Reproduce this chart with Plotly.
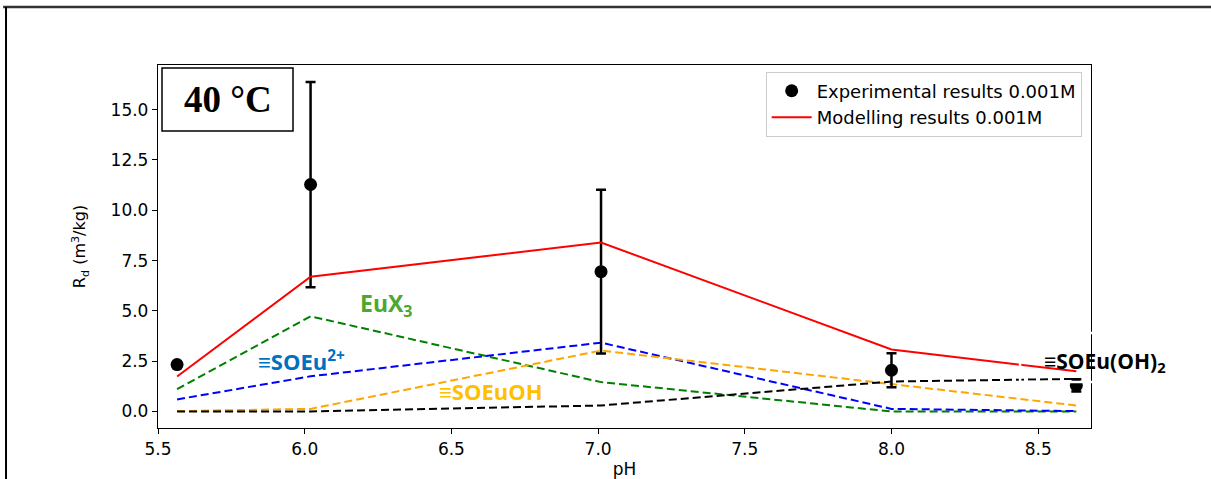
import plotly.graph_objects as go

# pH values of the sampling points
ph = [5.565, 6.02, 7.01, 8.0, 8.63]

# Experimental distribution ratios and their uncertainties
rd_exp = [2.33, 11.28, 6.95, 2.05, 1.3]
rd_err = [0.0, 5.1, 4.07, 0.85, 0.3]

# Modelled total and species contributions
rd_model = [1.74, 6.70, 8.40, 3.08, 2.0]
eux3 = [1.11, 4.73, 1.46, 0.0, 0.0]
soeu2 = [0.60, 1.75, 3.42, 0.13, 0.02]
soeuoh = [0.02, 0.13, 3.03, 1.34, 0.30]
soeuoh2 = [0.0, 0.0, 0.30, 1.49, 1.62]

species = [
    (eux3, "green"),
    (soeu2, "blue"),
    (soeuoh, "orange"),
    (soeuoh2, "black"),
]

fig = go.Figure()

for vals, col in species:
    fig.add_trace(go.Scatter(
        x=ph, y=vals, mode="lines", showlegend=False,
        line=dict(color=col, width=2, dash="8px,4px"),
    ))

fig.add_trace(go.Scatter(
    x=ph, y=rd_exp, mode="markers", name="Experimental results 0.001M",
    marker=dict(color="black", size=13),
    error_y=dict(type="data", array=rd_err, visible=True,
                 color="black", thickness=2.5, width=5),
))
fig.add_trace(go.Scatter(
    x=ph, y=rd_model, mode="lines", name="Modelling results 0.001M",
    line=dict(color="red", width=2),
))

label_font = dict(family="Open Sans, Liberation Sans, sans-serif", size=22)
fig.add_annotation(x=6.28, y=5.3, text="<b>EuX<sub>3</sub></b>", showarrow=False,
                   font=dict(label_font, size=23, color="#4EA72E"))
fig.add_annotation(x=5.99, y=2.55, text="<b>≡SOEu<sup>2+</sup></b>", showarrow=False,
                   font=dict(label_font, color="#0070C0"))
fig.add_annotation(x=6.635, y=1.0, text="<b>≡SOEuOH</b>", showarrow=False,
                   font=dict(label_font, color="#FFC000"))
fig.add_annotation(xref="paper", yref="paper", x=1.015, y=0.182,
                   xanchor="center", yanchor="middle",
                   text="<b>≡SOEu(OH)<sub>2</sub></b>", showarrow=False,
                   font=dict(label_font, size=21, color="black"))

# temperature tag
fig.add_annotation(xref="paper", yref="paper", x=0.0745, y=0.905,
                   xanchor="center", yanchor="middle",
                   text="<b>40 °C</b>", showarrow=False,
                   font=dict(family="Liberation Serif, Times New Roman, serif",
                             size=37, color="black"))
fig.add_shape(type="rect", xref="paper", yref="paper", layer="above",
              x0=0.0043, x1=0.1447, y0=0.818, y1=0.992,
              line=dict(color="black", width=1.5), fillcolor="rgba(0,0,0,0)")

# white outline of the box behind the last label
fig.add_shape(type="rect", xref="paper", yref="paper", layer="above",
              x0=0.924, x1=1.111, y0=0.127, y1=0.262,
              line=dict(color="white", width=2.5), fillcolor="rgba(0,0,0,0)")

# outer frame edges
fig.add_shape(type="line", xref="paper", yref="paper",
              x0=-0.166, x1=1.14, y0=1.1598, y1=1.1598,
              line=dict(color="#333333", width=2.5))
fig.add_shape(type="line", xref="paper", yref="paper",
              x0=-0.1629, x1=-0.1629, y0=-0.2, y1=1.1598,
              line=dict(color="black", width=2))

tick_font = dict(family="DejaVu Sans, sans-serif", size=17, color="black")

fig.update_layout(
    width=1211, height=479,
    margin=dict(l=158, r=120, t=65, b=51),
    paper_bgcolor="white", plot_bgcolor="white",
    showlegend=True,
    legend=dict(x=0.99, y=0.982, xanchor="right", yanchor="top",
                bgcolor="white", bordercolor="#cccccc", borderwidth=1,
                font=dict(family="DejaVu Sans, sans-serif", size=18, color="black"),
                itemwidth=40, tracegroupgap=0),
    xaxis=dict(range=[5.5, 8.68], tickvals=[5.5, 6.0, 6.5, 7.0, 7.5, 8.0, 8.5],
               tickformat=".1f", showgrid=False, zeroline=False, automargin=False,
               showline=True, linecolor="black", linewidth=1.3, mirror=True,
               ticks="outside", ticklen=5, tickcolor="black", tickfont=tick_font,
               title=dict(text="pH", font=dict(family="DejaVu Sans, sans-serif",
                                               size=17, color="black"))),
    yaxis=dict(range=[-0.82, 17.22], tickvals=[0, 2.5, 5, 7.5, 10, 12.5, 15],
               tickformat=".1f", showgrid=False, zeroline=False, automargin=False,
               showline=True, linecolor="black", linewidth=1.3, mirror=True,
               ticks="outside", ticklen=5, tickcolor="black", tickfont=tick_font,
               title=dict(text="R<sub>d</sub> (m<sup>3</sup>/kg)",
                          font=dict(family="DejaVu Sans, sans-serif", size=16,
                                    color="black"), standoff=20)),
)

fig.write_html("out.html")
